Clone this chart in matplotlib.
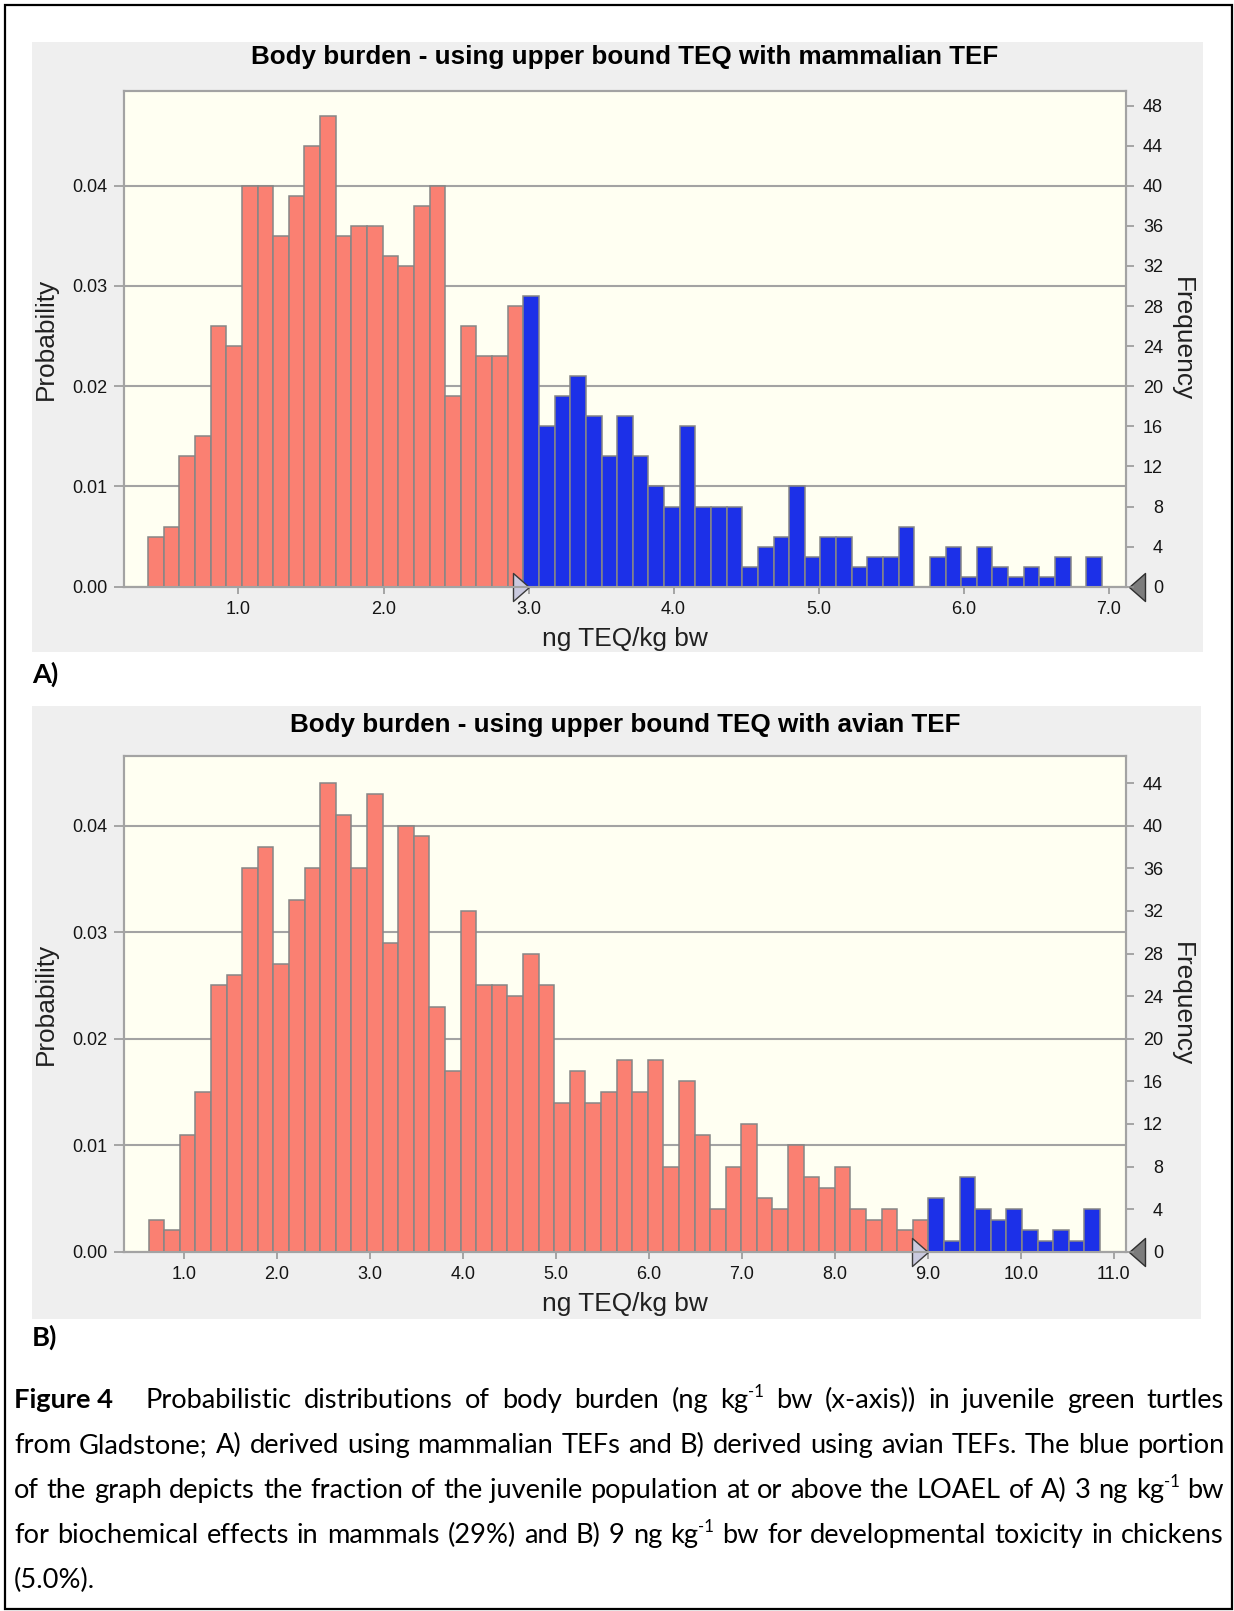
import numpy as np
import matplotlib
matplotlib.use("Agg")
import matplotlib.pyplot as plt
from matplotlib.patches import Rectangle

# ---------------- data ----------------
n_trials = 1000
title_a = "Body burden - using upper bound TEQ with mammalian TEF"
title_b = "Body burden - using upper bound TEQ with avian TEF"
xlabel_text = "ng TEQ/kg bw"
ylabel_left = "Probability"
ylabel_right = "Frequency"

# panel A (mammalian TEF): histogram bins and counts (below / at-or-above LOAEL)
a_bin_start = 0.377
a_bin_width = 0.1078
a_counts_below = [5, 6, 13, 15, 26, 24, 40, 40, 35, 39, 44, 47, 35, 36, 36, 33, 32, 38, 40,
                  19, 26, 23, 23, 28]
a_counts_above = [29, 16, 19, 21, 17, 13, 17, 13, 10, 8, 16, 8, 8, 8, 2, 4, 5, 10, 3, 5, 5, 2,
                  3, 3, 6, 0, 3, 4, 1, 4, 2, 1, 2, 1, 3, 0, 3]
a_threshold = 3.0
a_xticks = [1.0, 2.0, 3.0, 4.0, 5.0, 6.0, 7.0]
a_prob_ticks = [0.00, 0.01, 0.02, 0.03, 0.04]
a_freq_ticks = [0, 4, 8, 12, 16, 20, 24, 28, 32, 36, 40, 44, 48]

# panel B (avian TEF)
b_bin_start = 0.621
b_bin_width = 0.1677
b_counts_below = [3, 2, 11, 15, 25, 26, 36, 38, 27, 33, 36, 44, 41, 36, 43, 29, 40, 39, 23, 17,
                  32, 25, 25, 24, 28, 25, 14, 17, 14, 15, 18, 15, 18, 8, 16, 11, 4, 8, 12, 5,
                  4, 10, 7, 6, 8, 4, 3, 4, 2, 3]
b_counts_above = [5, 1, 7, 4, 3, 4, 2, 1, 2, 1, 4]
b_threshold = 9.0
b_xticks = [1.0, 2.0, 3.0, 4.0, 5.0, 6.0, 7.0, 8.0, 9.0, 10.0, 11.0]
b_prob_ticks = [0.00, 0.01, 0.02, 0.03, 0.04]
b_freq_ticks = [0, 4, 8, 12, 16, 20, 24, 28, 32, 36, 40, 44]

panel_labels = ["A)", "B)"]
caption_prefix = "Figure 4"
caption_lines = [
    "Probabilistic distributions of body burden (ng kg^{-1} bw (x-axis)) in juvenile green turtles",
    "from Gladstone; A) derived using mammalian TEFs and B) derived using avian TEFs. The blue portion",
    "of the graph depicts the fraction of the juvenile population at or above the LOAEL of A) 3 ng kg^{-1} bw",
    "for biochemical effects in mammals (29%) and B) 9 ng kg^{-1} bw for developmental toxicity in chickens",
    "(5.0%).",
]

# ---------------- style ----------------
W, H, DPI = 1234, 1611, 100
CHART_FONT = ["Liberation Sans", "DejaVu Sans"]
CAP_FONT = ["Lato", "DejaVu Sans"]
RED = "#fa8072"
BLUE = "#1c30e8"
EDGE = "#868686"
GRID = "#a3a3a3"
PLOT_BG = "#fffff2"
PANEL_BG = "#efefef"
TXT = "#141414"
PX = 0.72  # points per pixel at 100 dpi

plt.rcParams["font.family"] = CHART_FONT

fig = plt.figure(figsize=(W / DPI, H / DPI), dpi=DPI)
fig.patch.set_facecolor("white")
renderer = fig.canvas.get_renderer()


def fx(x):
    return x / W


def fy(y):
    return 1 - y / H


def add_rect(x0, y0, x1, y1, **kw):
    r = Rectangle((fx(x0), fy(y1)), (x1 - x0) / W, (y1 - y0) / H,
                  transform=fig.transFigure, **kw)
    fig.add_artist(r)
    return r


def text_width(s, size, family, weight="normal"):
    t = fig.text(0, 0, s, fontsize=size, family=family, fontweight=weight)
    w = t.get_window_extent(renderer).width
    t.remove()
    return w


def fit_size(s, target, family, weight="normal", ref=20.0):
    return ref * target / text_width(s, ref, family, weight)


# panel backgrounds and outer frame
add_rect(32, 41.7, 1202.7, 651.7, facecolor=PANEL_BG, edgecolor="none", zorder=-2)
add_rect(32, 706, 1201, 1319.3, facecolor=PANEL_BG, edgecolor="none", zorder=-2)
add_rect(4.5, 5, 1232, 1609, facecolor="none", edgecolor="black", linewidth=1.6, zorder=20)

TITLE_SIZE = fit_size(title_a, 743, CHART_FONT, "bold")
LABEL_SIZE = fit_size(xlabel_text, 166, CHART_FONT)
TICK_SIZE = 13

TRI_R = [(0, 0), (-16, 14), (-16, -14), (0, 0)]
TRI_L = [(3, 0), (19, 14), (19, -14), (3, 0)]


def panel(box, start, width, below, above, xlim, ytop, xticks, prob_ticks, freq_ticks,
          threshold):
    x0, y0, x1, y1 = box
    ax = fig.add_axes([fx(x0), fy(y1), (x1 - x0) / W, (y1 - y0) / H])
    ax.set_facecolor(PLOT_BG)
    nb, na = len(below), len(above)
    lb = start + width * np.arange(nb)
    la = start + width * (nb + np.arange(na))
    ax.bar(lb, np.asarray(below) / n_trials, width=width, align="edge", color=RED,
           edgecolor=EDGE, linewidth=1.1, zorder=3)
    ax.bar(la, np.asarray(above) / n_trials, width=width, align="edge", color=BLUE,
           edgecolor=EDGE, linewidth=1.1, zorder=3)
    ax.set_xlim(*xlim)
    ax.set_ylim(0, ytop)
    ax.set_xticks(xticks)
    ax.set_xticklabels([f"{t:.1f}" for t in xticks])
    ax.set_yticks(prob_ticks)
    ax.set_yticklabels([f"{t:.2f}" for t in prob_ticks])
    ax.set_axisbelow(True)
    ax.yaxis.grid(True, color=GRID, linewidth=1.5)
    ax.tick_params(axis="x", length=7 * PX, width=1.1, color="#909090", pad=7 * PX,
                   labelsize=TICK_SIZE, labelcolor=TXT)
    ax.tick_params(axis="y", length=10 * PX, width=1.1, color="#909090", pad=6 * PX,
                   labelsize=TICK_SIZE, labelcolor=TXT)
    ax2 = ax.twinx()
    ax2.set_ylim(0, ytop * n_trials)
    ax2.set_yticks(freq_ticks)
    ax2.set_yticklabels([str(t) for t in freq_ticks])
    ax2.tick_params(axis="y", length=8 * PX, width=1.1, color="#909090", pad=29 * PX,
                    labelsize=TICK_SIZE, labelcolor=TXT)
    for lbl in ax2.get_yticklabels():
        lbl.set_horizontalalignment("right")
    for a in (ax, ax2):
        for sp in a.spines.values():
            sp.set_color(GRID)
            sp.set_linewidth(1.5)
    # LOAEL marker and right-end marker
    ax.plot([threshold], [0], marker=TRI_R, markersize=2 * 16 * PX, markerfacecolor="#cacadf",
            markeredgecolor="#3a3a3a", markeredgewidth=1.0, linestyle="none", clip_on=False,
            zorder=8)
    ax.plot([xlim[1]], [0], marker=TRI_L, markersize=2 * 19 * PX, markerfacecolor="#7c7c7c",
            markeredgecolor="#2e2e2e", markeredgewidth=1.0, linestyle="none", clip_on=False,
            zorder=8)
    return ax


panel((123.6, 90.7, 1126, 586.7), a_bin_start, a_bin_width, a_counts_below, a_counts_above,
      (0.208, 7.119), 0.04948, a_xticks, a_prob_ticks, a_freq_ticks, a_threshold)
panel((123.6, 756.2, 1126, 1251.7), b_bin_start, b_bin_width, b_counts_below, b_counts_above,
      (0.352, 11.13), 0.04653, b_xticks, b_prob_ticks, b_freq_ticks, b_threshold)

# titles and axis labels
for title, base, zero, cy in ((title_a, 64.3, 586.7, 338.7), (title_b, 732, 1251.7, 1004)):
    fig.text(fx(625), fy(base), title, ha="center", va="baseline", fontsize=TITLE_SIZE,
             fontweight="bold", color="black")
    fig.text(fx(625), fy(zero + 59), xlabel_text, ha="center", va="baseline",
             fontsize=LABEL_SIZE, color="#202020")
    fig.text(fx(46), fy(cy), ylabel_left, ha="center", va="center", rotation=90,
             fontsize=LABEL_SIZE, color="#202020")
    fig.text(fx(1182), fy(cy), ylabel_right, ha="center", va="center", rotation=270,
             fontsize=LABEL_SIZE, color="#202020")

# ---------------- caption (justified) ----------------
def parse_words(line):
    words = []
    for w in line.split(" "):
        if "^{" in w:
            base, rest = w.split("^{", 1)
            sup, tail = rest.split("}", 1)
            segs = [(base, "n"), (sup, "s")]
            if tail:
                segs.append((tail, "n"))
        else:
            segs = [(w, "n")]
        words.append(segs)
    return words


def seg_w(text, style, size):
    if style == "s":
        return text_width(text, size * 0.62, CAP_FONT)
    return text_width(text, size, CAP_FONT, "bold" if style == "b" else "normal")


def word_w(segs, size):
    return sum(seg_w(t, s, size) for t, s in segs)


REF = 20.0
space_ref = text_width("a a", REF, CAP_FONT) - text_width("aa", REF, CAP_FONT)
line_x0 = [146, 14, 14, 14, 14]
line_x1 = 1224
parsed = [parse_words(l) for l in caption_lines]
scales = []
for i in range(4):
    nat = sum(word_w(w, REF) for w in parsed[i]) + space_ref * (len(parsed[i]) - 1)
    scales.append((line_x1 - line_x0[i]) / nat)
CAP_SIZE = REF * min(scales) * 0.995
space = space_ref * CAP_SIZE / REF
baselines = [1408.3, 1453.3, 1498.3, 1543.3, 1588.3]


def draw_segs(x, y, segs, size):
    for t, s in segs:
        if s == "s":
            fig.text(fx(x), fy(y - 0.42 * size / PX), t, fontsize=size * 0.62, family=CAP_FONT,
                     ha="left", va="baseline", color="black")
        else:
            fig.text(fx(x), fy(y), t, fontsize=size, family=CAP_FONT,
                     fontweight="bold" if s == "b" else "normal",
                     ha="left", va="baseline", color="black")
        x += seg_w(t, s, size)
    return x


draw_segs(14, baselines[0], [(caption_prefix, "b")], CAP_SIZE)
for i, words in enumerate(parsed):
    widths = [word_w(w, CAP_SIZE) for w in words]
    if i < 4 and len(words) > 1:
        gap = (line_x1 - line_x0[i] - sum(widths)) / (len(words) - 1)
    else:
        gap = space
    x = line_x0[i]
    for w, ww in zip(words, widths):
        draw_segs(x, baselines[i], w, CAP_SIZE)
        x += ww + gap

# panel letters
fig.text(fx(32), fy(683), panel_labels[0], fontsize=CAP_SIZE, family=CAP_FONT,
         fontweight="bold", ha="left", va="baseline", color="black")
fig.text(fx(32), fy(1346), panel_labels[1], fontsize=CAP_SIZE, family=CAP_FONT,
         fontweight="bold", ha="left", va="baseline", color="black")

fig.savefig("out.png", dpi=DPI, facecolor="white")
